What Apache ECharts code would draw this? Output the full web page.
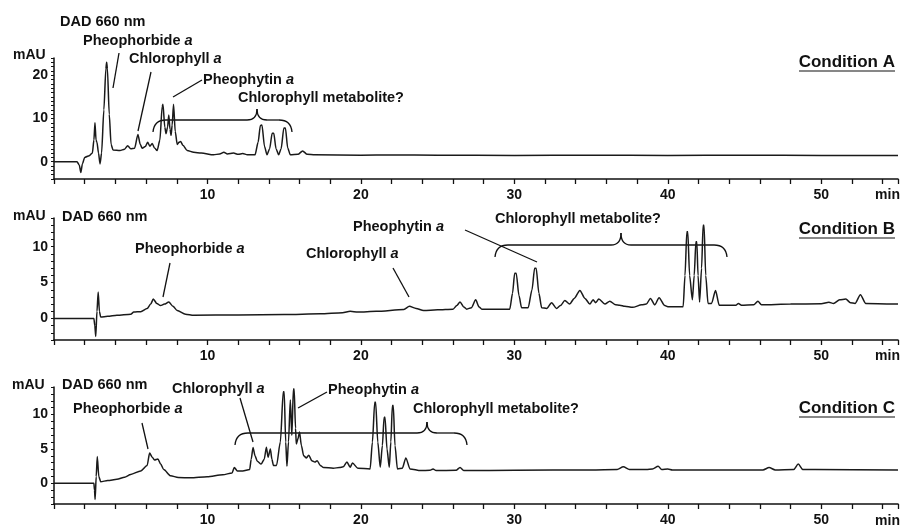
<!DOCTYPE html>
<html>
<head>
<meta charset="utf-8">
<script src="https://cdn.jsdelivr.net/npm/echarts@6/dist/echarts.min.js"></script>
<style>
html,body{margin:0;padding:0;background:#fff;}
#chart{width:909px;height:527px;}
</style>
</head>
<body>
<div id="chart"></div>
<script>
// ---- Data (retention time in min, absorbance in mAU) ----
const conditionA = [[0,0],[1.5,0],[1.65,-0.8],[1.75,-2.5],[1.85,-0.5],[2.0,1.0],[2.3,1.4],[2.5,2.0],[2.6,5],[2.67,9],[2.74,5],[2.8,4.5],[2.9,2],[3.0,-0.5],[3.1,2],[3.25,12],[3.38,21.5],[3.43,23],[3.48,21.5],[3.6,11],[3.72,4],[3.85,2.7],[4.3,2.6],[4.6,2.9],[4.8,3.7],[5.0,3.0],[5.25,3.1],[5.47,6.3],[5.62,4.0],[5.75,3.1],[5.95,3.5],[6.1,4.5],[6.25,3.6],[6.4,4.2],[6.55,3.2],[6.72,2.6],[6.9,5],[7.05,12.8],[7.1,13.3],[7.22,8],[7.3,6.5],[7.4,8],[7.48,10.8],[7.56,7.5],[7.63,6.1],[7.7,8.5],[7.79,13.3],[7.9,7],[8.03,4],[8.15,4.5],[8.25,4.7],[8.4,3.8],[8.68,2.6],[9.1,2.2],[9.6,2.0],[10.4,1.6],[10.8,1.8],[11.07,2.2],[11.3,1.8],[11.7,2.0],[12.0,1.7],[12.3,1.9],[12.6,1.6],[13.1,1.6],[13.3,4.5],[13.45,8.4],[13.55,8.5],[13.72,3.5],[13.88,1.6],[14.05,3],[14.22,6.6],[14.32,6.6],[14.47,3],[14.64,1.6],[14.8,3],[14.98,7.8],[15.08,7.8],[15.23,3.2],[15.4,1.6],[15.9,1.7],[16.2,2.5],[16.5,1.7],[17,1.6],[20,1.5],[22,1.55],[25,1.5],[30,1.45],[35,1.5],[40,1.45],[45,1.5],[50,1.45],[55,1.45]];

const conditionB = [[0,0],[2.6,0],[2.66,-1],[2.72,-2.5],[2.8,1],[2.88,3.7],[2.96,1],[3.04,0.2],[3.5,0.3],[4.1,0.45],[5.0,0.6],[5.2,0.9],[5.65,0.95],[6.07,1.4],[6.3,2.0],[6.47,2.7],[6.7,2.1],[6.94,1.8],[7.2,2.0],[7.48,2.3],[7.75,1.7],[8.03,1.1],[8.57,0.6],[9.1,0.45],[12,0.5],[15,0.55],[17.35,0.65],[18.8,0.8],[19.3,1.0],[19.8,0.9],[21,1.0],[22.8,1.25],[23.16,1.7],[23.6,1.4],[24.08,1.1],[25,1.2],[26.0,1.3],[26.25,1.8],[26.46,2.3],[26.7,1.6],[26.9,1.3],[27.2,1.5],[27.48,2.6],[27.7,1.6],[27.88,1.3],[29.7,1.3],[29.88,3.5],[30.02,6.3],[30.12,6.3],[30.3,3.2],[30.47,1.5],[30.9,1.5],[31.15,4],[31.32,7.0],[31.42,7.0],[31.6,3.5],[31.78,1.5],[32.1,1.4],[32.43,2.2],[32.75,1.4],[33.0,1.8],[33.29,2.5],[33.6,2.0],[33.9,2.8],[34.27,3.9],[34.6,2.8],[34.92,2.0],[35.13,2.6],[35.3,2.2],[35.5,2.7],[35.9,2.0],[36.22,2.4],[36.6,1.9],[36.87,1.85],[37.2,1.7],[37.7,1.55],[38.3,1.9],[38.6,2.0],[38.87,2.8],[39.15,1.9],[39.43,2.9],[39.8,1.8],[40.0,1.65],[41.0,1.65],[41.12,6],[41.24,12.1],[41.3,12.1],[41.42,6],[41.6,2.6],[41.72,6],[41.83,10.7],[41.89,10.7],[41.97,6],[42.07,2.3],[42.2,7],[42.3,13.0],[42.36,13.0],[42.47,6],[42.62,2.1],[42.85,2.1],[43.11,3.9],[43.35,1.85],[44.45,1.85],[44.6,2.1],[44.8,1.85],[45.6,1.9],[45.87,2.4],[46.1,1.9],[48,2.0],[50,2.05],[50.5,2.25],[50.8,2.1],[51.2,2.6],[51.6,2.7],[51.9,2.2],[52.2,2.1],[52.55,3.3],[52.9,2.1],[55,2.0]];

const conditionC = [[0,0],[2.6,0],[2.64,-1],[2.68,-2.35],[2.75,1],[2.82,3.9],[2.92,1],[3.04,0.25],[3.5,0.4],[4.1,0.6],[4.6,0.9],[5.0,1.3],[5.65,1.8],[6.07,2.6],[6.23,4.4],[6.4,3.8],[6.55,3.4],[6.77,3.55],[6.95,2.8],[7.15,2.0],[7.6,1.1],[8.1,0.85],[8.9,0.8],[9.98,0.95],[11,1.25],[11.6,1.5],[11.75,2.3],[11.95,1.8],[12.3,1.8],[12.75,2.0],[12.85,3.5],[12.97,5.2],[13.1,4.0],[13.25,3.2],[13.5,2.8],[13.7,3.5],[13.84,5.25],[13.95,3.8],[14.1,5.0],[14.2,3.5],[14.3,2.6],[14.5,2.6],[14.75,6],[14.94,13.3],[15.0,13.3],[15.1,6],[15.18,2.5],[15.28,6],[15.4,12.1],[15.5,7],[15.6,13.7],[15.65,13.7],[15.74,8],[15.79,5.7],[15.9,6.5],[16.0,7.45],[16.12,5.5],[16.27,4.0],[16.45,3.7],[16.6,4.1],[16.8,3.3],[17.0,3.1],[17.15,3.3],[17.35,2.6],[17.57,2.3],[18.2,2.2],[18.6,2.3],[18.85,2.4],[19.09,3.1],[19.3,2.35],[19.45,2.95],[19.8,2.2],[20.6,2.1],[20.75,6],[20.9,11.8],[20.96,11.8],[21.1,6],[21.26,2.35],[21.4,5.5],[21.51,9.6],[21.57,9.6],[21.7,5],[21.85,2.35],[21.95,6],[22.05,11.3],[22.11,11.3],[22.22,5.5],[22.38,2.1],[22.7,2.2],[22.93,3.7],[23.2,2.1],[23.9,1.85],[24.5,1.9],[24.7,2.1],[24.9,1.85],[26.2,1.9],[26.46,2.3],[26.7,1.85],[30,1.9],[35,1.95],[36.7,2.0],[37.1,2.4],[37.5,2.0],[38.6,2.0],[39.0,2.1],[39.37,2.5],[39.6,2.0],[40.0,2.1],[40.3,1.95],[46.2,1.95],[46.6,2.3],[47.0,1.95],[48.2,2.0],[48.5,2.8],[48.8,2.0],[49.6,2.0],[55,1.95]];

const xTickLabels = [10, 20, 30, 40, 50];
const yTickLabelsA = [0, 10, 20];
const yTickLabelsBC = [0, 5, 10];

// ---- Layout ----
const FONT = 'Liberation Sans, Arial, Helvetica, sans-serif';
const grids = [
  {left: 54, right: 11, top: 58, height: 121},
  {left: 54, right: 11, top: 218, height: 122},
  {left: 54, right: 11, top: 387, height: 117}
];
const yRanges = [{min: -4, max: 24, interval: 2, labels: yTickLabelsA},
                 {min: -3, max: 14, interval: 1, labels: yTickLabelsBC},
                 {min: -3, max: 14, interval: 1, labels: yTickLabelsBC}];

const axisLabelStyle = {color: '#111', fontFamily: FONT, fontWeight: 'bold', fontSize: 14};

const xAxes = grids.map((g, i) => ({
  type: 'value', gridIndex: i, min: 0, max: 55, interval: 2,
  axisLine: {show: true, onZero: false, lineStyle: {color: '#111', width: 1.5}},
  axisTick: {show: true, length: 5, lineStyle: {color: '#111', width: 1.3}},
  splitLine: {show: false},
  axisLabel: Object.assign({margin: 9, formatter: v => xTickLabels.includes(v) ? String(v) : ''}, axisLabelStyle)
}));
const yAxes = yRanges.map((r, i) => ({
  type: 'value', gridIndex: i, min: r.min, max: r.max, interval: r.interval,
  axisLine: {show: true, onZero: false, lineStyle: {color: '#111', width: 1.5}},
  axisTick: {show: true, length: 3, lineStyle: {color: '#111', width: 1}},
  minorTick: i === 0 ? {show: true, splitNumber: 2, length: 3, lineStyle: {color: '#111', width: 1}} : {show: false},
  splitLine: {show: false},
  axisLabel: Object.assign({margin: 6, formatter: v => r.labels.includes(v) ? String(v) : ''}, axisLabelStyle)
}));

const seriesData = [conditionA, conditionB, conditionC];
const series = seriesData.map((d, i) => ({
  type: 'line', xAxisIndex: i, yAxisIndex: i, data: d,
  showSymbol: false, smooth: 0.25, smoothMonotone: 'x', silent: true,
  lineStyle: {color: '#1a1a1a', width: 1.5}
}));

// ---- Annotations ----
function txt(text, x, y, size, align) {
  return {type: 'text', silent: true, style: {
    text: text, x: x, y: y, fill: '#111',
    font: 'bold ' + (size || 14.5) + 'px ' + FONT,
    textAlign: align || 'left', align: align || 'left',
    textVerticalAlign: 'middle', verticalAlign: 'middle',
    rich: {i: {fontStyle: 'italic', fontWeight: 'bold', fontSize: size || 14.5, fontFamily: FONT, fill: '#111'}}
  }};
}
function seg(x1, y1, x2, y2, w) {
  return {type: 'line', silent: true, shape: {x1: x1, y1: y1, x2: x2, y2: y2},
    style: {stroke: '#111', lineWidth: w || 1.3}};
}
function curve(x1, y1, cx, cy, x2, y2) {
  return {type: 'bezierCurve', silent: true,
    shape: {x1: x1, y1: y1, cpx1: cx, cpy1: cy, x2: x2, y2: y2},
    style: {stroke: '#111', lineWidth: 1.3, fill: null}};
}
// curly brace: left end, right end, tip x, line y, tip y, end y
function brace(xl, xr, xt, yl, yt, ye) {
  const r = 11;
  return [
    curve(xl, ye, xl + 1, yl, xl + r + 2, yl),
    seg(xl + r + 2, yl, xt - 10, yl),
    curve(xt - 10, yl, xt, yl, xt, yt),
    curve(xt, yt, xt, yl, xt + 10, yl),
    seg(xt + 10, yl, xr - r - 2, yl),
    curve(xr - r - 2, yl, xr - 1, yl, xr, ye)
  ];
}

const graphics = [].concat(
  // Panel A
  txt('mAU', 13, 55, 14),
  txt('DAD 660 nm', 60, 22),
  txt('Pheophorbide {i|a}', 83, 41),
  seg(119, 53, 113, 88),
  txt('Chlorophyll {i|a}', 129, 59),
  seg(151, 72, 138, 131),
  txt('Pheophytin {i|a}', 203, 80),
  seg(202, 80, 173, 97),
  txt('Chlorophyll metabolite?', 238, 98),
  brace(153, 292, 257, 120, 109, 132),
  txt('Condition A', 895, 62, 17, 'right'),
  seg(799, 71, 895, 71, 1.2),
  txt('min', 900, 195, 14, 'right'),
  // Panel B
  txt('mAU', 13, 216, 14),
  txt('DAD 660 nm', 62, 217),
  txt('Pheophorbide {i|a}', 135, 249),
  seg(170, 263, 163, 297),
  txt('Chlorophyll {i|a}', 306, 254),
  seg(393, 268, 409, 297),
  txt('Pheophytin {i|a}', 353, 227),
  seg(465, 230, 537, 262),
  txt('Chlorophyll metabolite?', 495, 219),
  brace(495, 727, 621, 245, 233, 257),
  txt('Condition B', 895, 229, 17, 'right'),
  seg(799, 238, 895, 238, 1.2),
  txt('min', 900, 356, 14, 'right'),
  // Panel C
  txt('mAU', 12, 385, 14),
  txt('DAD 660 nm', 62, 385),
  txt('Pheophorbide {i|a}', 73, 409),
  seg(142, 423, 148, 449),
  txt('Chlorophyll {i|a}', 172, 389),
  seg(240, 398, 253, 442),
  txt('Pheophytin {i|a}', 328, 390),
  seg(327, 392, 298, 408),
  txt('Chlorophyll metabolite?', 413, 409),
  brace(235, 467, 427, 433, 422, 445),
  txt('Condition C', 895, 408, 17, 'right'),
  seg(799, 417, 895, 417, 1.2),
  txt('min', 900, 521, 14, 'right')
);

const chart = echarts.init(document.getElementById('chart'), null, {renderer: 'canvas'});
chart.setOption({
  animation: false,
  backgroundColor: '#fff',
  grid: grids,
  xAxis: xAxes,
  yAxis: yAxes,
  series: series,
  graphic: graphics
});
</script>
</body>
</html>
